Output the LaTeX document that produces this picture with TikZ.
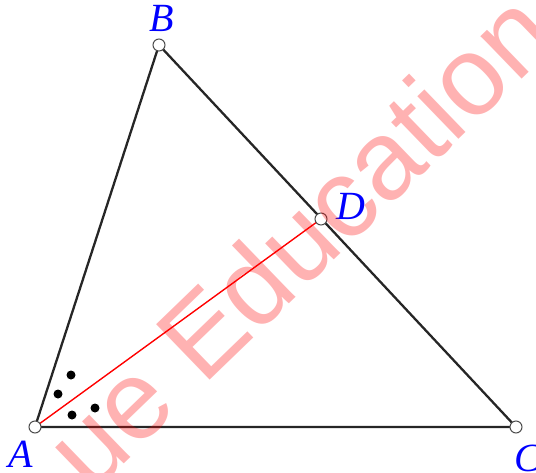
\documentclass[tikz,border=0pt]{standalone}
\usepackage{fontspec}
\newfontfamily\wmfont{Liberation Sans}
\newfontfamily\labfont{Liberation Serif}
\begin{document}
\begin{tikzpicture}[x=1pt,y=-1pt,
  side/.style={line width=2.3pt, draw=black!85},
  ptc/.style={circle, draw=black!70, fill=white, line width=1pt, inner sep=0pt, minimum size=12pt},
  lab/.style={text=blue, font=\labfont\fontsize{40}{42}\selectfont\itshape, inner sep=0pt},
  angdot/.style={circle, fill=black, inner sep=0pt, minimum size=9pt}]
\useasboundingbox (0,0) rectangle (536,472);
\coordinate (A) at (35,427);
\coordinate (B) at (159,45);
\coordinate (C) at (516,427);
\coordinate (D) at (321,219);
\draw[side] (A) -- (B) -- (C) -- cycle;
\draw[red, line width=1.4pt] (A) -- (D);
\node[ptc] (nA) at (A) {};
\node[ptc] (nB) at (B) {};
\node[ptc] (nC) at (C) {};
\node[ptc] (nD) at (D) {};
\node[lab] (lA) at (21,454) {A};
\node[lab] (lB) at (162,18) {B};
\node[lab] (lC) at (528,458) {C};
\node[lab] (lD) at (351,206) {D};
\node[angdot] (d1) at (71,375) {};
\node[angdot] (d2) at (58,394) {};
\node[angdot] (d3) at (72,415) {};
\node[angdot] (d4) at (95,408) {};
\node[anchor=base west, rotate=44, text=red, text opacity=0.3, inner sep=0pt,
      font=\wmfont\fontsize{112}{112}\selectfont] (wm) at (203,387) {\llap{ue }Education};
\end{tikzpicture}
\end{document}
